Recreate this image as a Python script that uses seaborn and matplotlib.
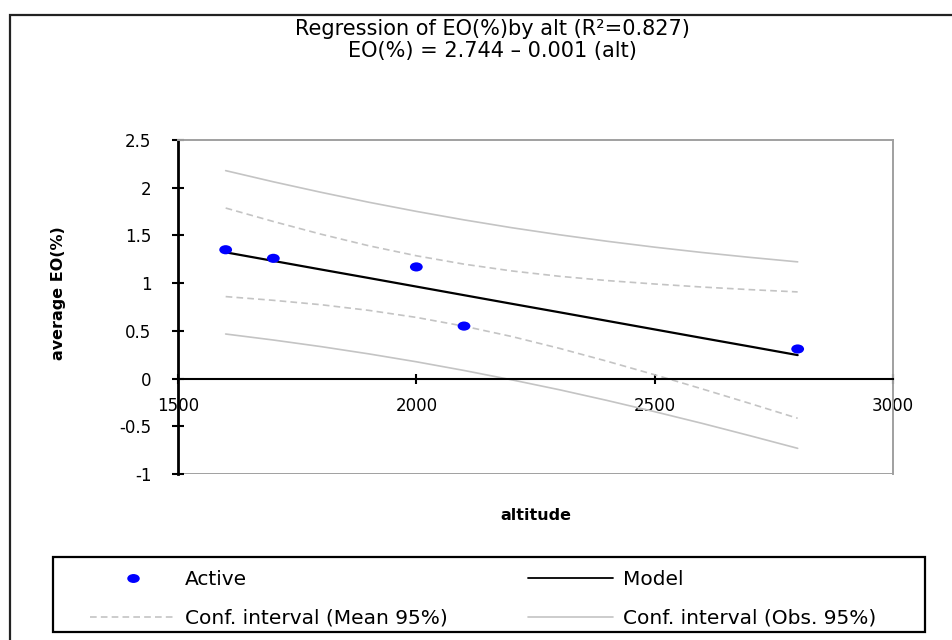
import matplotlib
matplotlib.use("Agg")
import matplotlib.pyplot as plt
import matplotlib.patches as mpatches
from matplotlib.lines import Line2D
from matplotlib.path import Path
from matplotlib.transforms import Affine2D
import seaborn as sns
import pandas as pd

# ---- data ----
alt_obs = [1600, 1700, 2000, 2100, 2800]
eo_obs = [1.35, 1.26, 1.17, 0.55, 0.31]

alt_grid = [1600, 1700, 1800, 1900, 2000, 2100, 2200, 2300, 2400, 2500, 2600, 2700, 2800]
model_fit = [1.323, 1.233, 1.143, 1.054, 0.964, 0.874, 0.784, 0.695, 0.605, 0.515, 0.425, 0.336, 0.246]
mean_upper = [1.787, 1.646, 1.513, 1.392, 1.287, 1.199, 1.128, 1.072, 1.027, 0.991, 0.959, 0.932, 0.908]
mean_lower = [0.859, 0.820, 0.774, 0.715, 0.641, 0.549, 0.441, 0.317, 0.182, 0.040, -0.109, -0.261, -0.416]
obs_upper = [2.179, 2.062, 1.952, 1.848, 1.752, 1.663, 1.581, 1.507, 1.439, 1.377, 1.321, 1.270, 1.223]
obs_lower = [0.467, 0.404, 0.335, 0.259, 0.176, 0.085, -0.013, -0.117, -0.229, -0.347, -0.470, -0.599, -0.731]

x_ticks = [1500, 2000, 2500, 3000]
y_ticks = [-1, -0.5, 0, 0.5, 1, 1.5, 2, 2.5]
y_ticklabels = ["-1", "-0.5", "0", "0.5", "1", "1.5", "2", "2.5"]

title_lines = ["Regression of EO(%)by alt (R²=0.827)", "EO(%) = 2.744 \u2013 0.001 (alt)"]
x_label = "altitude"
y_label = "average EO(%)"
legend_labels = ["Active", "Model", "Conf. interval (Mean 95%)", "Conf. interval (Obs. 95%)"]

# ---- figure ----
sns.set_theme(style="white")
plt.rcParams["font.family"] = ["DejaVu Sans"]
plt.rcParams["text.color"] = "black"

W, H = 952, 640
fig = plt.figure(figsize=(W / 100, H / 100), dpi=100)
ax = fig.add_axes([178 / W, 1 - 474 / H, (893 - 178) / W, (474 - 140) / H])

pts = pd.DataFrame({"alt": alt_obs, "eo": eo_obs})
grid = pd.DataFrame({"alt": alt_grid, "fit": model_fit, "mu": mean_upper, "ml": mean_lower,
                     "ou": obs_upper, "ol": obs_lower})

# horizontally stretched dot, as in the reference
oval = Path.unit_circle().transformed(Affine2D().scale(1.4, 1.0))

ci_col = "#c4c4c4"
dash = (0, (4, 2.5))
sns.lineplot(data=grid, x="alt", y="ou", ax=ax, color=ci_col, lw=1.2)
sns.lineplot(data=grid, x="alt", y="ol", ax=ax, color=ci_col, lw=1.2)
sns.lineplot(data=grid, x="alt", y="mu", ax=ax, color=ci_col, lw=1.2, linestyle=dash)
sns.lineplot(data=grid, x="alt", y="ml", ax=ax, color=ci_col, lw=1.2, linestyle=dash)
sns.lineplot(data=grid, x="alt", y="fit", ax=ax, color="black", lw=1.6)
sns.scatterplot(data=pts, x="alt", y="eo", ax=ax, color="#0000ff", s=85, edgecolor="none",
                marker=oval, zorder=5)

ax.set_xlim(1500, 3000)
ax.set_ylim(-1, 2.5)
ax.set_xticks(x_ticks)
ax.set_xticklabels([str(v) for v in x_ticks])
ax.set_yticks(y_ticks)
ax.set_yticklabels(y_ticklabels)

frame_col = "#a0a0a0"
for s in ["top", "right"]:
    ax.spines[s].set_color(frame_col)
    ax.spines[s].set_linewidth(1.4)
ax.spines["left"].set_color("black")
ax.spines["left"].set_linewidth(2.0)
ax.spines["bottom"].set_position(("data", 0))
ax.spines["bottom"].set_color("black")
ax.spines["bottom"].set_linewidth(1.5)
ax.axhline(-1, color=frame_col, lw=1.4, zorder=0)

ax.tick_params(axis="x", direction="inout", length=7, width=1.5, color="black", pad=10,
               labelsize=12, labelcolor="black", bottom=True)
ax.tick_params(axis="y", direction="inout", length=8, width=1.5, color="black", pad=15,
               labelsize=12, labelcolor="black", left=True)
ax.set_xlabel("")
ax.set_ylabel("")

fig.text(536 / W, 1 - 515 / H, x_label, ha="center", va="center", fontsize=11.5,
         fontweight="bold")
fig.text(58 / W, 1 - 293 / H, y_label, ha="center", va="center", rotation=90,
         fontsize=11.5, fontweight="bold")

fig.text(492 / W, 1 - 29 / H, title_lines[0], ha="center", va="center", fontsize=15)
fig.text(492 / W, 1 - 51 / H, title_lines[1], ha="center", va="center", fontsize=15)

# outer border (extends beyond right/bottom edges)
border = mpatches.Rectangle((10 / W, -0.2), 1.2, 1 - 15 / H + 0.2, transform=fig.transFigure,
                            fill=False, edgecolor="#222222", lw=1.6, clip_on=False)
fig.patches.append(border)

# legend box
legbox = mpatches.Rectangle((53 / W, 1 - 632 / H), 872 / W, 75 / H, transform=fig.transFigure,
                            fill=False, edgecolor="black", lw=1.6)
fig.patches.append(legbox)

h_active = Line2D([], [], color="#0000ff", marker=oval, linestyle="none", markersize=9,
                  markeredgecolor="none")
h_mean = Line2D([], [], color=ci_col, lw=1.2, linestyle=dash)
h_model = Line2D([], [], color="black", lw=1.3)
h_obs = Line2D([], [], color=ci_col, lw=1.2)

fs = 14.5
fs_px = fs * 100 / 72
common = dict(loc="upper left", frameon=False, fontsize=fs, handlelength=85 / fs_px,
              handletextpad=10 / fs_px, borderaxespad=0, borderpad=0,
              labelspacing=(40 - fs_px) / fs_px)
leg1 = fig.legend([h_active, h_mean], [legend_labels[0], legend_labels[2]],
                  bbox_to_anchor=(90 / W, 1 - 570 / H), **common)
leg2 = fig.legend([h_model, h_obs], [legend_labels[1], legend_labels[3]],
                  bbox_to_anchor=(528 / W, 1 - 570 / H), **common)

fig.savefig("out.png", dpi=100, facecolor="white")
